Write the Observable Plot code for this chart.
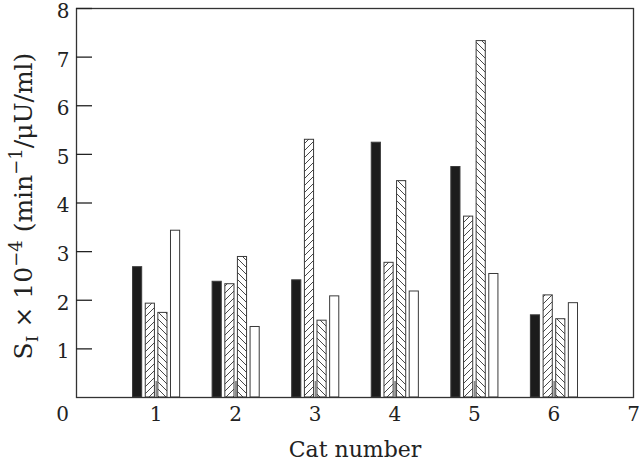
<!DOCTYPE html>
<html><head><meta charset="utf-8">
<script src="https://cdn.jsdelivr.net/npm/d3@7"></script>
<script src="https://cdn.jsdelivr.net/npm/@observablehq/plot@0.6"></script>
<style>body{margin:0;background:#fff} svg{font-family:"DejaVu Serif",serif}</style>
</head><body><div id="chart"></div>
<script>
// ---- data ----
const cats = [1, 2, 3, 4, 5, 6];
const solid     = [2.68, 2.38, 2.41, 5.24, 4.74, 1.69];
const hatchUp   = [1.93, 2.33, 5.30, 2.77, 3.72, 2.10];
const hatchDown = [1.74, 2.89, 1.58, 4.45, 7.33, 1.61];
const open      = [3.43, 1.45, 2.08, 2.18, 2.54, 1.94];
const centerMarks = [0.33, 0.33, 0.33, 0.33, 0.33, 0.33];
const xTicks = [1, 2, 3, 4, 5, 6, 7];
const yTicks = [1, 2, 3, 4, 5, 6, 7, 8];
const xLabel = "Cat number";

// ---- layout constants ----
const offsets = [-0.232, -0.072, 0.086, 0.245];
const barW = 0.115;
const series = [
  {vals: solid, fill: "#1c1c1c"},
  {vals: hatchUp, fill: "url(#hatchUp)"},
  {vals: hatchDown, fill: "url(#hatchDown)"},
  {vals: open, fill: "white"}
];

const barMarks = series.map((s, k) => Plot.rectY(cats, {
  x1: (d) => d + offsets[k] - barW / 2,
  x2: (d) => d + offsets[k] + barW / 2,
  y1: 0,
  y2: (d, i) => s.vals[i],
  fill: s.fill,
  stroke: "#3a3a3a",
  strokeWidth: 1
}));

const plot = Plot.plot({
  width: 640, height: 462,
  marginLeft: 76, marginRight: 7, marginTop: 8, marginBottom: 65,
  style: {fontFamily: "DejaVu Serif", fontSize: "20px", background: "white", color: "#222"},
  x: {domain: [0, 7]},
  y: {domain: [0, 8]},
  marks: [
    ...barMarks,
    Plot.ruleX(cats, {x: (d) => d + 0.005, y1: 0, y2: (d, i) => centerMarks[i], stroke: "#888", strokeWidth: 2}),
    Plot.frame({stroke: "#333", strokeWidth: 1.3}),
    Plot.axisY(yTicks, {tickSize: -16, tickFormat: () => "", label: null, strokeWidth: 1.3}),
    Plot.axisY(yTicks, {tickSize: 0, tickPadding: 7, label: null, dy: 3}),
    Plot.axisX(xTicks, {tickSize: 0, tickPadding: 9, label: null}),
    Plot.text([0], {x: (d) => d, frameAnchor: "bottom", dx: -14, dy: 9, lineAnchor: "top", text: (d) => String(d)}),
    Plot.text([xLabel], {frameAnchor: "bottom", dy: 52, lineAnchor: "middle", fontSize: 22})
  ]
});

const svg = d3.select(plot);
const defs = svg.insert("defs", ":first-child");
function pat(id, d) {
  const p = defs.append("pattern").attr("id", id).attr("patternUnits", "userSpaceOnUse")
    .attr("width", 7).attr("height", 7);
  p.append("rect").attr("width", 7).attr("height", 7).attr("fill", "white");
  p.append("path").attr("d", d).attr("stroke", "#333").attr("stroke-width", 0.9).attr("fill", "none");
}
pat("hatchUp", "M0,7L7,0M-1,1L1,-1M6,8L8,6");
pat("hatchDown", "M0,0L7,7M-1,6L1,8M6,-1L8,1");

const t = svg.append("text")
  .attr("transform", "translate(32,206) rotate(-90)")
  .attr("text-anchor", "middle")
  .attr("fill", "#222")
  .attr("font-size", 25);
t.append("tspan").text("S");
t.append("tspan").attr("dy", 6).attr("font-size", 17).text("I");
t.append("tspan").attr("dy", -6).text(" × 10");
t.append("tspan").attr("dy", -10).attr("font-size", 18).text("−4");
t.append("tspan").attr("dy", 10).text(" (min");
t.append("tspan").attr("dy", -10).attr("font-size", 18).text("−1");
t.append("tspan").attr("dy", 10).text("/μU/ml)");

document.getElementById("chart").appendChild(plot);
</script></body></html>
